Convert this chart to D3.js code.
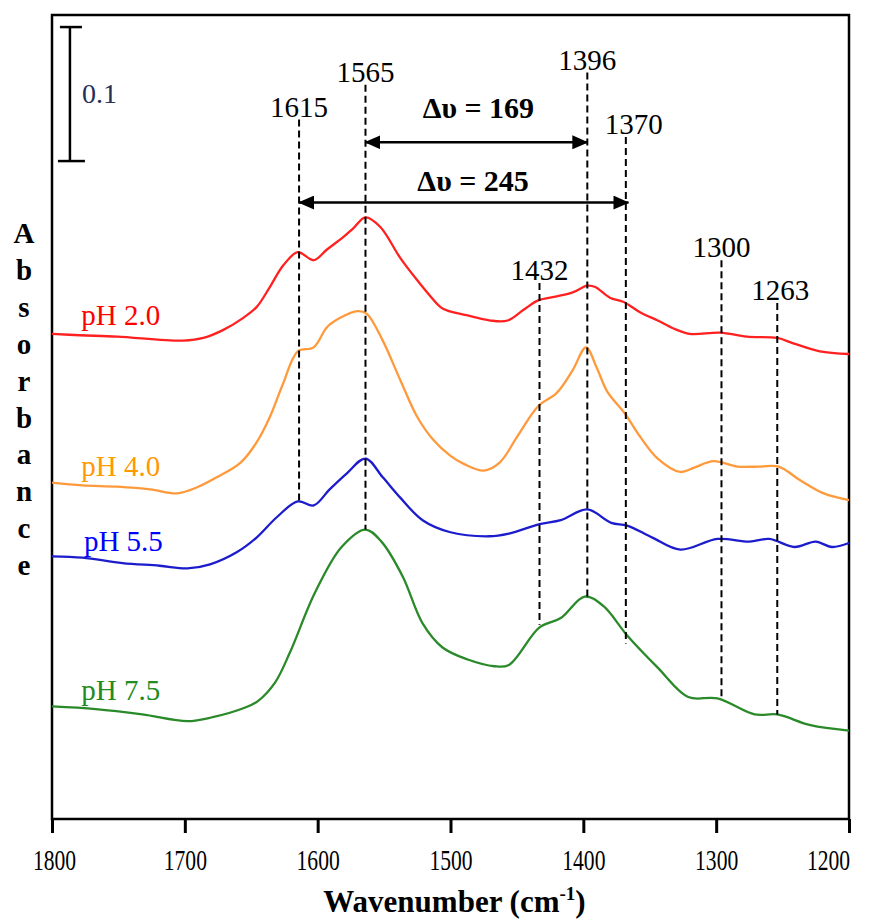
<!DOCTYPE html>
<html>
<head>
<meta charset="utf-8">
<script src="https://cdn.jsdelivr.net/npm/d3@7"></script>
<style>
  body { margin: 0; background: #fff; }
  svg text { font-family: "Liberation Serif", Tinos, "Times New Roman", "DejaVu Serif", serif; }
</style>
</head>
<body>
<svg width="870" height="921"></svg>
<script>
// spectra: [wavenumber, absorbance]
const ph20 = [[1800,.362],[1779,.361],[1751,.360],[1701,.357],[1686,.359],[1671,.365],[1656,.374],[1646,.382],[1636,.397],[1626,.413],[1615,.423],[1603,.417],[1593,.425],[1581,.434],[1573,.441],[1564,.449],[1553,.442],[1538,.419],[1525,.402],[1515,.390],[1506,.381],[1488,.376],[1470,.372],[1457,.372],[1445,.380],[1434,.387],[1420,.390],[1408,.393],[1397,.398],[1391,.397],[1380,.389],[1370,.386],[1357,.378],[1344,.372],[1332,.366],[1320,.362],[1297,.363],[1277,.360],[1254,.359],[1242,.355],[1222,.349],[1200,.347]];
const ph40 = [[1800,.251],[1777,.249],[1751,.248],[1726,.246],[1706,.243],[1692,.247],[1676,.255],[1658,.266],[1646,.281],[1636,.300],[1626,.325],[1615,.349],[1603,.352],[1593,.367],[1583,.374],[1570,.379],[1563,.377],[1551,.357],[1538,.328],[1525,.300],[1513,.283],[1500,.271],[1490,.265],[1475,.260],[1463,.266],[1450,.285],[1434,.308],[1420,.318],[1408,.335],[1398,.352],[1390,.337],[1382,.319],[1369,.303],[1357,.285],[1344,.269],[1327,.259],[1317,.262],[1302,.267],[1284,.263],[1267,.263],[1253,.263],[1237,.253],[1219,.243],[1200,.238]];
const ph55 = [[1800,.196],[1777,.195],[1747,.191],[1719,.189],[1698,.187],[1681,.190],[1661,.199],[1646,.210],[1631,.225],[1615,.237],[1603,.234],[1591,.246],[1578,.258],[1564,.269],[1551,.255],[1538,.240],[1521,.223],[1500,.214],[1471,.211],[1456,.213],[1433,.220],[1417,.223],[1397,.231],[1379,.221],[1367,.219],[1348,.210],[1327,.201],[1299,.209],[1275,.207],[1260,.209],[1241,.203],[1225,.207],[1213,.203],[1200,.206]];
const ph75 = [[1800,.084],[1767,.082],[1732,.078],[1698,.073],[1679,.076],[1655,.083],[1645,.088],[1632,.102],[1621,.124],[1602,.169],[1582,.203],[1564,.216],[1552,.207],[1536,.181],[1521,.146],[1506,.128],[1487,.119],[1467,.114],[1456,.115],[1433,.143],[1417,.150],[1399,.166],[1385,.159],[1367,.137],[1344,.113],[1321,.091],[1299,.090],[1271,.078],[1254,.078],[1229,.070],[1200,.066]];

const seriesNames = ["pH 2.0", "pH 4.0", "pH 5.5", "pH 7.5"];
const seriesData = [ph20, ph40, ph55, ph75];
const lineColors = ["#ff2020", "#ff9a3c", "#1c1ccc", "#2a8a2a"];
const textColors = ["#ff0000", "#ff9900", "#0000ff", "#228b22"];
const nameAt = [[1778, .369], [1778, .256], [1776, .200], [1778, .089]];

// peak markers: label, line position, top, bottom
const peakLabels = ["1615", "1565", "1432", "1396", "1370", "1300", "1263"];
const peakPos = [1614, 1564, 1433, 1397, 1368, 1296, 1254];
const peakTop = [.522, .548, .400, .557, .509, .417, .385];
const peakBottom = [.236, .216, .145, .166, .131, .089, .078];

const splits = [
  {text: "169", from: 1564, to: 1397, at: .505, tx: 1479, ty: .523},
  {text: "245", from: 1614, to: 1366, at: .460, tx: 1483, ty: .469}
];

const xTicks = [1800, 1700, 1600, 1500, 1400, 1300, 1200];

const svg = d3.select("svg");
const m = {top: 15, right: 21, bottom: 102, left: 52};
const W = 870, H = 921;

const x = d3.scaleLinear().domain([1800, 1200]).range([m.left, W - m.right]);
const y = d3.scaleLinear().domain([0, 0.6]).range([H - m.bottom, m.top]);

// frame
svg.append("rect")
  .attr("x", x(1800)).attr("y", y(0.6))
  .attr("width", x(1200) - x(1800)).attr("height", y(0) - y(0.6))
  .attr("fill", "none").attr("stroke", "#000").attr("stroke-width", 2.5);

// bottom axis
const ax = svg.append("g")
  .attr("transform", `translate(0,${y(0)})`)
  .call(d3.axisBottom(x).tickValues(xTicks).tickSize(14).tickPadding(10).tickFormat(d3.format("d")));
ax.select(".domain").remove();
ax.selectAll("line").attr("stroke", "#000").attr("stroke-width", 3);
ax.selectAll("text")
  .attr("fill", "#000")
  .attr("font-family", null)
  .attr("font-size", null)
  .style("font-size", "30px")
  .attr("dy", "0.9em")
  .attr("transform", d => `translate(${d === 1200 ? -21 : d === 1800 ? 2 : 0},0) scale(0.72,1)`);

const title = svg.append("text")
  .attr("x", x(1500) + 4).attr("y", 912)
  .attr("text-anchor", "middle")
  .style("font-size", "31px").style("font-weight", "bold");
title.append("tspan").text("Wavenumber (cm");
title.append("tspan").attr("dy", -12).style("font-size", "19px").text("-1");
title.append("tspan").attr("dy", 12).text(")");

// vertical y label, one letter per row
const yLetters = "Absorbance".split("");
svg.selectAll("text.ylab")
  .data(yLetters)
  .enter()
  .append("text")
  .attr("class", "ylab")
  .attr("x", 24)
  .attr("y", (d, i) => 243 + i * 36.9)
  .attr("text-anchor", "middle")
  .style("font-size", "29px").style("font-weight", "bold")
  .text(d => d);

// scale bar
const sb = svg.append("g");
const sbx = x(1786.5);
sb.append("line").attr("x1", sbx).attr("x2", sbx).attr("y1", y(.591)).attr("y2", y(.491))
  .attr("stroke", "#000").attr("stroke-width", 2.5);
sb.append("line").attr("x1", sbx - 10).attr("x2", sbx + 12).attr("y1", y(.591)).attr("y2", y(.591))
  .attr("stroke", "#000").attr("stroke-width", 2.5);
sb.append("line").attr("x1", sbx - 12).attr("x2", sbx + 15).attr("y1", y(.491)).attr("y2", y(.491))
  .attr("stroke", "#000").attr("stroke-width", 2.5);
sb.append("text").attr("x", sbx + 12).attr("y", y(.534))
  .attr("fill", "#243056").style("font-size", "28px").text("0.1");

// curves
const line = d3.line()
  .x(d => x(d[0]))
  .y(d => y(d[1]))
  .curve(d3.curveCatmullRom.alpha(0.5));

svg.selectAll("path.spec")
  .data(seriesData)
  .enter()
  .append("path")
  .attr("class", "spec")
  .attr("d", line)
  .attr("fill", "none")
  .attr("stroke", (d, i) => lineColors[i])
  .attr("stroke-width", 2.3);

svg.selectAll("text.name")
  .data(seriesNames)
  .enter()
  .append("text")
  .attr("class", "name")
  .attr("x", (d, i) => x(nameAt[i][0]))
  .attr("y", (d, i) => y(nameAt[i][1]))
  .attr("fill", (d, i) => textColors[i])
  .style("font-size", "29px")
  .text(d => d);

// dashed peak lines
peakLabels.forEach((lab, i) => {
  svg.append("line")
    .attr("x1", x(peakPos[i])).attr("x2", x(peakPos[i]))
    .attr("y1", y(peakTop[i])).attr("y2", y(peakBottom[i]))
    .attr("stroke", "#000").attr("stroke-width", 2)
    .attr("stroke-dasharray", "7,4");
  svg.append("text")
    .attr("x", x(peakPos[i]) + (lab === "1370" ? 8 : lab === "1263" ? 3 : 0))
    .attr("y", y(peakTop[i]) - 3)
    .attr("text-anchor", "middle")
    .style("font-size", "29px")
    .text(lab);
});

// splitting arrows
svg.append("defs").append("marker")
  .attr("id", "tip")
  .attr("viewBox", "0 0 16 14")
  .attr("refX", 15).attr("refY", 7)
  .attr("markerWidth", 16).attr("markerHeight", 14)
  .attr("markerUnits", "userSpaceOnUse")
  .attr("orient", "auto-start-reverse")
  .append("path").attr("d", "M0,0 L16,7 L0,14 Z").attr("fill", "#000");

splits.forEach(s => {
  svg.append("line")
    .attr("x1", x(s.from)).attr("x2", x(s.to))
    .attr("y1", y(s.at)).attr("y2", y(s.at))
    .attr("stroke", "#000").attr("stroke-width", 2.5)
    .attr("marker-start", "url(#tip)").attr("marker-end", "url(#tip)");
  svg.append("text")
    .attr("x", x(s.tx)).attr("y", y(s.ty))
    .attr("text-anchor", "middle")
    .style("font-size", "30px").style("font-weight", "bold")
    .text("\u0394\u03c5 = " + s.text);
});
</script>
</body>
</html>
